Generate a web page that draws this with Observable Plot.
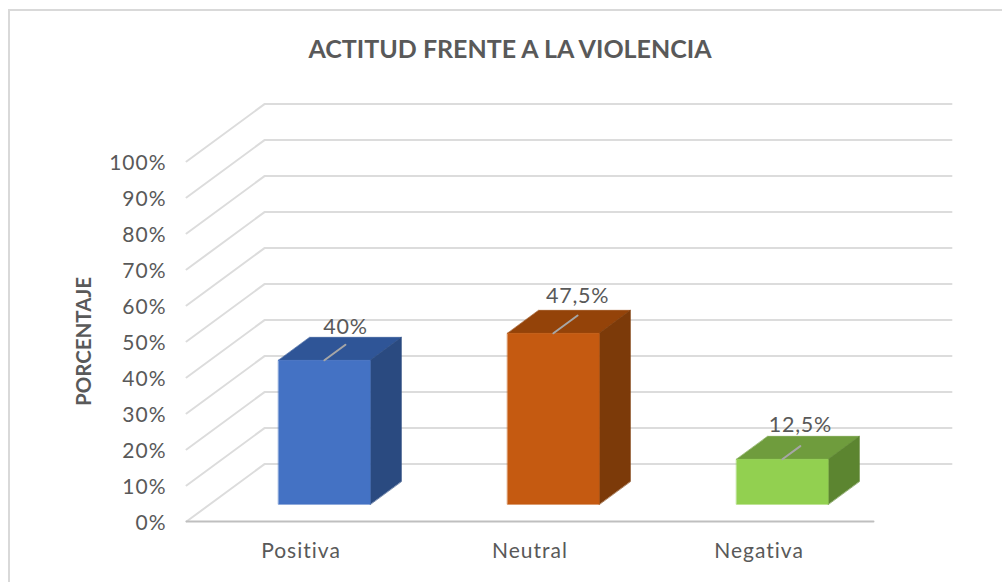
<!DOCTYPE html>
<html>
<head>
<meta charset="utf-8">
<script src="https://cdn.jsdelivr.net/npm/d3@7"></script>
<script src="https://cdn.jsdelivr.net/npm/@observablehq/plot@0.6"></script>
<style>
html,body{margin:0;padding:0;background:#fff;overflow:hidden}
#frame{position:absolute;left:8px;top:9px;right:0;bottom:0;border-left:2px solid #d9d9d9;border-top:2px solid #d9d9d9}
#chart{position:absolute;left:0;top:0}
</style>
</head>
<body>
<div id="frame"></div>
<div id="chart"></div>
<script>
const categories = ["Positiva", "Neutral", "Negativa"];
const values = [40, 47.5, 12.5];
const valueLabels = ["40%", "47,5%", "12,5%"];
const frontColors = ["#4472c4", "#c55a11", "#92d050"];
const topColors = ["#2f5597", "#944309", "#6f9c3d"];
const sideColors = ["#2a4a80", "#7c3a09", "#5c8530"];
const yTicks = [0, 10, 20, 30, 40, 50, 60, 70, 80, 90, 100];
const title = "ACTITUD FRENTE A LA VIOLENCIA";
const yTitle = "PORCENTAJE";

// oblique projection of the 3-D column chart: depth z in 0..1
const DX = 0.3406, DY = 15.94;
const FONT = "Lato, 'Open Sans', sans-serif";
const TEXT = "#595959";
const P = (c, v, z) => ({x: c + z * DX, y: v + z * DY});

const grid = yTicks.flatMap(v => [P(0, v, 0), P(0, v, 1), P(3, v, 1)].map(p => ({...p, v})));

const barW = 0.2, z0 = 0.3, z1 = 0.7;
const faces = [];
categories.forEach((name, i) => {
  const c = i + 0.5, a = c - barW, b = c + barW, v = values[i];
  const add = (fill, pts) => pts.forEach(p => faces.push({...p, id: name + fill, fill}));
  add(topColors[i], [P(a, v, z0), P(b, v, z0), P(b, v, z1), P(a, v, z1)]);
  add(sideColors[i], [P(b, 0, z0), P(b, v, z0), P(b, v, z1), P(b, 0, z1)]);
  add(frontColors[i], [P(a, 0, z0), P(b, 0, z0), P(b, v, z0), P(a, v, z0)]);
});

// leader line depth and label lift are layout settings, not data
const leaderDepth = [0.57, 0.61, 0.53];
const labelLift = [18, 19, 21];
const leaders = categories.flatMap((name, i) => {
  const c = i + 0.5, v = values[i];
  return [P(c, v, z0), P(c, v, leaderDepth[i])].map(p => ({...p, id: name}));
});
const dataLabels = categories.map((name, i) => ({...P(i + 0.5, values[i], leaderDepth[i]), text: valueLabels[i], lift: labelLift[i]}));

function spaced(spacing) {
  return function(index, scales, values, dims, context, next) {
    const g = next(index, scales, values, dims, context);
    d3.select(g).selectAll("text").style("letter-spacing", spacing);
    return g;
  };
}

const plot = Plot.plot({
  width: 1002,
  height: 582,
  marginLeft: 186,
  marginRight: 129,
  marginTop: 161,
  marginBottom: 61,
  x: {domain: [0, 3]},
  y: {domain: [0, 100]},
  style: {background: "transparent", fontFamily: FONT, overflow: "visible"},
  marks: [
    Plot.line(grid, {x: "x", y: "y", z: "v", stroke: "#dcdcdc", strokeWidth: 2}),
    Plot.line([P(0, 0, 0), P(3, 0, 0)], {x: "x", y: "y", stroke: "#bfbfbf", strokeWidth: 2}),
    Plot.line(faces, {x: "x", y: "y", z: "id", fill: "fill", stroke: "fill", strokeWidth: 0.6, curve: "linear-closed"}),
    Plot.line(leaders, {x: "x", y: "y", z: "id", stroke: "#a6a6a6", strokeWidth: 2}),
    ...dataLabels.map(d => Plot.text([d], {x: "x", y: "y", text: "text", fontSize: 21.5, fill: TEXT, dy: -d.lift, render: spaced("0.7px")})),
    Plot.axisY({ticks: yTicks, tickFormat: d => d + "%", tickSize: 0, tickPadding: 20, label: null,
      fontSize: 21, color: TEXT, dy: 2, render: spaced("1px")}),
    Plot.axisX({ticks: categories.map((_, i) => i + 0.5), tickFormat: d => categories[Math.floor(d)],
      tickSize: 0, tickPadding: 22, label: null, fontSize: 21, color: TEXT, render: spaced("1px")}),
    Plot.text([title], {frameAnchor: "top", dx: -20, dy: -121, text: d => d, fontSize: 25, fontWeight: "bold", fill: TEXT}),
    Plot.text([yTitle], {frameAnchor: "left", dx: -102, rotate: -90, textAnchor: "middle", text: d => d, fontSize: 20.5, fontWeight: "bold", fill: TEXT})
  ]
});
document.getElementById("chart").append(plot);
</script>
</body>
</html>
